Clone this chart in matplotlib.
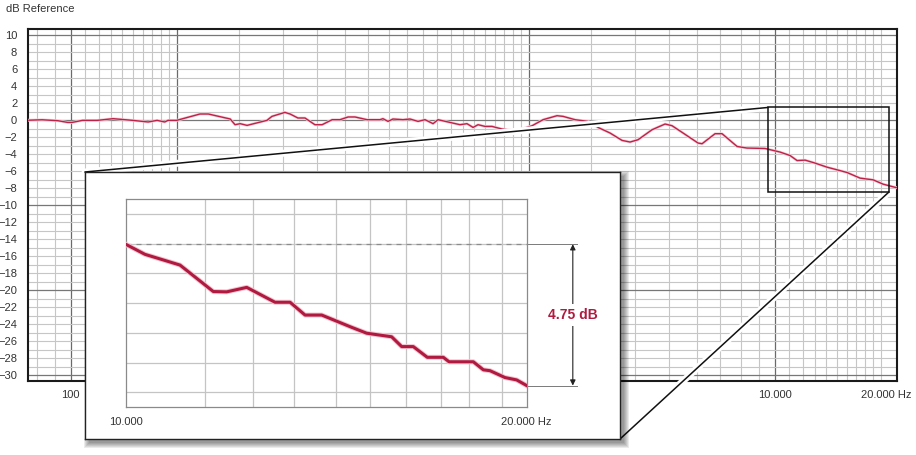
import numpy as np
import matplotlib.pyplot as plt
import matplotlib.patheffects as pe
import matplotlib.transforms as mtransforms
from matplotlib.patches import Rectangle, ConnectionPatch

plt.rcParams['font.family'] = ['Liberation Sans', 'DejaVu Sans']

# main response curve (Hz / dB)
freq = [76, 83, 92, 98, 101, 108, 119, 132, 150, 166, 176, 185, 189, 200,
        233, 246, 284, 293, 303, 317, 361, 373, 406, 420, 442, 463, 494, 518,
        553, 582, 614, 642, 695, 756, 771, 797, 823, 879, 920, 970, 1015, 1070,
        1105, 1180, 1276, 1336, 1390, 1436, 1503, 1573, 1680, 1850, 2045, 2197,
        2407, 2504, 2709, 2949, 3148, 3405, 3684, 3881, 4089, 4482, 4880, 5108,
        5490, 6055, 6216, 6767, 7084, 7815, 8342, 9385, 10350, 11054, 11571,
        12196, 13017, 14077, 15031, 16049, 17475, 19025, 20315, 22200]
level = [0.0, 0.05, -0.06, -0.26, -0.26, -0.02, -0.02, 0.18, -0.02, -0.21, -0.02,
         -0.21, -0.02, -0.02, 0.73, 0.73, 0.14, -0.53, -0.41, -0.61, -0.02, 0.45,
         0.92, 0.73, 0.26, 0.26, -0.53, -0.53, 0.06, 0.06, 0.38, 0.38, 0.06, 0.06,
         0.18, -0.14, 0.14, 0.06, 0.14, -0.14, 0.06, -0.41, 0.06, -0.21, -0.53,
         -0.41, -0.85, -0.53, -0.73, -0.73, -1.04, -1.24, -0.65, 0.06, 0.53, 0.45,
         0.06, -0.14, -0.85, -1.51, -2.38, -2.57, -2.30, -1.12, -0.45, -0.65,
         -1.51, -2.69, -2.77, -1.59, -1.59, -3.09, -3.28, -3.33, -3.75, -4.16,
         -4.75, -4.70, -5.05, -5.53, -5.84, -6.16, -6.82, -7.02, -7.53, -7.95]

# zoomed 10k-20k detail
zoom_freq = [10000, 10339, 10984, 11635, 11908, 12327, 12945, 13286, 13634, 14033,
             14736, 15166, 15836, 16113, 16440, 16842, 17315, 17487, 18237, 18555,
             18771, 19263, 19656, 20000]
zoom_level = [-3.02, -3.36, -3.72, -4.61, -4.62, -4.47, -4.97, -4.97, -5.40, -5.40,
              -5.79, -6.01, -6.13, -6.46, -6.46, -6.82, -6.82, -6.97, -6.97, -7.24,
              -7.27, -7.50, -7.58, -7.77]
drop_label = '4.75 dB'

W, H = 916, 455
red = '#bd2148'
txt = '#333333'


def frac(x0, y0, x1, y1):
    # pixel box -> figure fraction rect
    return [x0 / W, 1 - y1 / H, (x1 - x0) / W, (y1 - y0) / H]


fig = plt.figure(figsize=(W / 100, H / 100), dpi=100)

# ---- main chart ----
ax = fig.add_axes(frac(28.3, 29.3, 896.7, 381), zorder=0)
ax.set_xscale('log')
ax.set_xlim(75.8, 22200)
ax.set_ylim(-30.7, 10.7)

minor_x = (list(range(80, 200, 10)) + list(range(300, 2000, 100)) +
           list(range(3000, 10000, 1000)) + list(range(11000, 21000, 1000)))
major_x = [100, 200, 2000, 10000]
for f in minor_x:
    if f not in major_x:
        ax.axvline(f, color='#c6c6c6', lw=0.8, zorder=1)
for f in major_x:
    ax.axvline(f, color='#6a6a6a', lw=0.9, zorder=1)
for d in range(-30, 11):
    if d % 10 == 0:
        ax.axhline(d, color='#777777', lw=0.9, zorder=1)
    else:
        ax.axhline(d, color='#c6c6c6', lw=0.8, zorder=1)

ax.plot(freq, level, color=red, lw=1.0, zorder=3,
        path_effects=[pe.Stroke(linewidth=2.0, foreground='#f4cdd6'), pe.Normal()])

ax.set_xticks([])
ax.xaxis.set_minor_locator(plt.NullLocator())
ax.set_yticks(range(-30, 11, 2))
ax.tick_params(axis='y', length=0, pad=8, labelsize=8, labelcolor=txt)
for s in ax.spines.values():
    s.set_color('#1a1a1a')
    s.set_linewidth(1.5)

xt = ax.get_xaxis_transform()
ax.text(100, -0.04, '100', transform=xt, ha='center', va='center', fontsize=8, color=txt)
ax.text(10000, -0.04, '10.000', transform=xt, ha='center', va='center', fontsize=8, color=txt)
ax.annotate('20.000 Hz', xy=(20000, -0.04), xycoords=xt, xytext=(6, 0),
            textcoords='offset pixels', ha='center', va='center', fontsize=8, color=txt)
fig.text(6 / W, 1 - 9 / H, 'dB Reference', ha='left', va='center', fontsize=8, color=txt)

# ---- inset box ----
box = fig.add_axes(frac(85, 172, 620, 439), zorder=2)
box.set_facecolor('white')
box.set_xticks([])
box.set_yticks([])
for s in box.spines.values():
    s.set_color('#222222')
    s.set_linewidth(1.0)

# soft drop shadow
for s in [5, 4, 3, 2, 1, 0]:
    sh = Rectangle(((85 + 4 - s) / W, 1 - (439 + 4 + s) / H),
                   (620 - 85 + 2 * s) / W, (439 - 172 + 2 * s) / H,
                   transform=fig.transFigure, fc='black', ec='none',
                   alpha=0.08, zorder=1.5)
    fig.add_artist(sh)

# connector lines with white halo
halo = [pe.Stroke(linewidth=5, foreground='white'), pe.Normal()]
for a, b in [((9570, 1.5), (0, 1)), ((21100, -8.45), (1, 0))]:
    con = ConnectionPatch(xyA=a, coordsA=ax.transData, xyB=b, coordsB=box.transAxes,
                          color='#111111', lw=1.1, zorder=1)
    con.set_path_effects(halo)
    fig.add_artist(con)

# zoom rectangle, drawn above the connector halos
fig.add_artist(Rectangle((9570, -8.45), 21100 - 9570, 9.95, transform=ax.transData,
                         fill=False, ec='#111111', lw=1.1, zorder=1.2))

# ---- inset plot ----
ax2 = fig.add_axes(frac(125.7, 199, 526.7, 407.3), zorder=3)
ax2.set_xscale('log')
ax2.set_xlim(10000, 20000)
ax2.set_ylim(-8.5, -1.5)
for f in [11470, 12460, 13380, 14380, 15250, 16230, 17250, 18100, 19160]:
    ax2.axvline(f, color='#c4c4c4', lw=0.9, zorder=1)
for d in range(-8, -1):
    ax2.axhline(d, color='#c4c4c4', lw=0.9, zorder=1)
ax2.set_xticks([])
ax2.xaxis.set_minor_locator(plt.NullLocator())
ax2.set_yticks([])
for s in ax2.spines.values():
    s.set_color('#8a8a8a')
    s.set_linewidth(0.9)

ax2.plot(zoom_freq, zoom_level, color='#b01a40', lw=2.2, zorder=3,
         path_effects=[pe.Stroke(linewidth=3.6, foreground='#f2c4cf'), pe.Normal()])

blend = mtransforms.blended_transform_factory(ax2.transAxes, ax2.transData)
top, bot = zoom_level[0], zoom_level[-1]
ax2.plot([0, 1], [top, top], transform=blend, color='#8c8c8c', lw=0.9,
         ls=(0, (4, 4)), zorder=2)
ax2.plot([1, 1.125], [top, top], transform=blend, color='#7a7a7a', lw=0.7, clip_on=False)
ax2.plot([1, 1.125], [bot, bot], transform=blend, color='#7a7a7a', lw=0.7, clip_on=False)
ax2.annotate('', xy=(1.115, bot), xytext=(1.115, top), xycoords=blend, textcoords=blend,
             annotation_clip=False,
             arrowprops=dict(arrowstyle='<|-|>', color='#222222', lw=0.8,
                             shrinkA=0, shrinkB=0, mutation_scale=8))
ax2.text(1.115, (top + bot) / 2, drop_label, transform=blend, ha='center', va='center',
         fontsize=10, fontweight='bold', color='#b01a40', clip_on=False,
         bbox=dict(fc='white', ec='none', pad=3))
ax2.text(0, -0.07, '10.000', transform=ax2.transAxes, ha='center', va='center',
         fontsize=8, color=txt)
ax2.text(1, -0.07, '20.000 Hz', transform=ax2.transAxes, ha='center', va='center',
         fontsize=8, color=txt)

fig.savefig('out.png', dpi=100)
